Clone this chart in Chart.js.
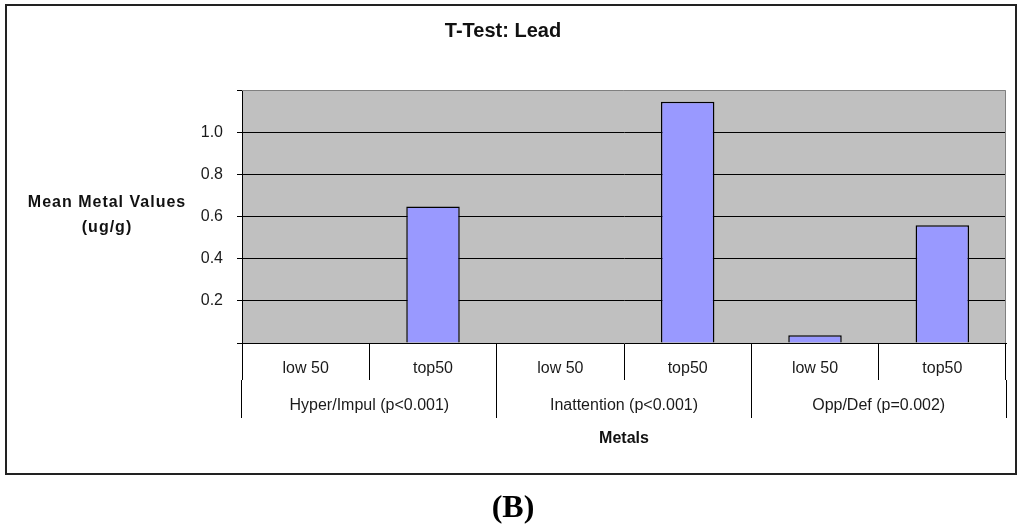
<!DOCTYPE html>
<html>
<head>
<meta charset="utf-8">
<title>T-Test: Lead</title>
<script src="https://cdn.jsdelivr.net/npm/chart.js@4.4.0/dist/chart.umd.min.js"></script>
<style>
  html, body { margin: 0; padding: 0; background: #fff; }
  canvas { display: block; }
</style>
</head>
<body>
<canvas id="leadChart" width="1024" height="531"></canvas>
<script>
// data
const groups = ['Hyper/Impul (p<0.001)', 'Inattention (p<0.001)', 'Opp/Def (p=0.002)'];
const subgroups = ['low 50', 'top50', 'low 50', 'top50', 'low 50', 'top50'];
const meanLead = [0, 0.647, 0, 1.144, 0.037, 0.558];
const yTicks = [0.2, 0.4, 0.6, 0.8, 1.0];

Chart.defaults.font.family = '"Liberation Sans", Arial, sans-serif';
Chart.defaults.color = '#1a1a1a';

function isLabelled(v) {
    return yTicks.some(t => Math.abs(t - v) < 1e-6);
}

const framePlugin = {
    id: 'frame',
    beforeDraw(chart) {
        const ctx = chart.ctx;
        const a = chart.chartArea;
        ctx.save();
        ctx.fillStyle = '#fff';
        ctx.fillRect(0, 0, chart.width, chart.height);
        ctx.fillStyle = '#c0c0c0';
        ctx.fillRect(a.left, a.top, a.right - a.left, a.bottom - a.top);
        ctx.restore();
    },
    afterDraw(chart) {
        const ctx = chart.ctx;
        const a = chart.chartArea;
        ctx.save();
        // plot border (top + right)
        ctx.strokeStyle = '#808080';
        ctx.lineWidth = 1;
        ctx.beginPath();
        ctx.moveTo(a.left, a.top + 0.5);
        ctx.lineTo(a.right - 0.5, a.top + 0.5);
        ctx.lineTo(a.right - 0.5, a.bottom);
        ctx.stroke();

        // outer frame
        ctx.strokeStyle = '#222';
        ctx.lineWidth = 2;
        ctx.strokeRect(6, 5, 1010, 469);

        // y axis title, horizontal like the original
        ctx.fillStyle = '#111';
        ctx.font = 'bold 16px "Liberation Sans", Arial, sans-serif';
        ctx.letterSpacing = '1px';
        ctx.textAlign = 'center';
        ctx.textBaseline = 'middle';
        ctx.fillText('Mean Metal Values', 107, 203);
        ctx.fillText('(ug/g)', 107, 228);
        ctx.letterSpacing = '0px';

        // panel letter
        ctx.fillStyle = '#000';
        ctx.font = 'bold 32px "Liberation Serif", "Times New Roman", serif';
        ctx.fillText('(B)', 513, 509);
        ctx.restore();
    }
};

new Chart(document.getElementById('leadChart'), {
    type: 'bar',
    data: {
        labels: subgroups,
        datasets: [{
            label: 'Lead',
            data: meanLead,
            backgroundColor: '#9999ff',
            borderColor: '#000',
            borderWidth: 1.5,
            barPercentage: 0.42,
            categoryPercentage: 1.0
        }]
    },
    options: {
        responsive: false,
        animation: false,
        layout: {
            padding: { left: 0, right: 18, top: 0, bottom: 82.4 }
        },
        plugins: {
            legend: { display: false },
            tooltip: { enabled: false },
            title: {
                display: true,
                text: 'T-Test: Lead',
                font: { size: 20, weight: 'bold' },
                color: '#111',
                padding: { top: 19, bottom: 47 }
            }
        },
        scales: {
            x: {
                type: 'category',
                position: 'bottom',
                weight: 0,
                offset: true,
                grid: {
                    offset: true,
                    drawOnChartArea: false,
                    tickLength: 37,
                    color: '#000'
                },
                border: { display: true, color: '#000' },
                ticks: {
                    font: { size: 16 },
                    padding: -21,
                    maxRotation: 0,
                    autoSkip: false
                },
                afterFit: scale => { scale.height = 37; }
            },
            x2: {
                type: 'category',
                position: 'bottom',
                weight: 1,
                labels: groups,
                offset: true,
                grid: {
                    offset: true,
                    drawOnChartArea: false,
                    tickLength: 38,
                    color: '#000'
                },
                border: { display: false },
                ticks: {
                    font: { size: 16 },
                    padding: -22,
                    maxRotation: 0,
                    autoSkip: false
                },
                title: {
                    display: true,
                    text: 'Metals',
                    font: { size: 16, weight: 'bold' },
                    color: '#111',
                    padding: { top: 0, bottom: 0 }
                },
                afterFit: scale => { scale.height = 68.6; }
            },
            y: {
                min: 0,
                max: 1.2,
                ticks: {
                    stepSize: 0.2,
                    font: { size: 16 },
                    padding: 14,
                    callback: v => isLabelled(v) ? v.toFixed(1) : ''
                },
                grid: {
                    color: c => isLabelled(c.tick.value) ? '#000' : 'rgba(0,0,0,0)',
                    tickColor: '#000',
                    tickLength: 5
                },
                border: { color: '#000' },
                afterFit: scale => { scale.width = 242; }
            }
        }
    },
    plugins: [framePlugin]
});
</script>
</body>
</html>
